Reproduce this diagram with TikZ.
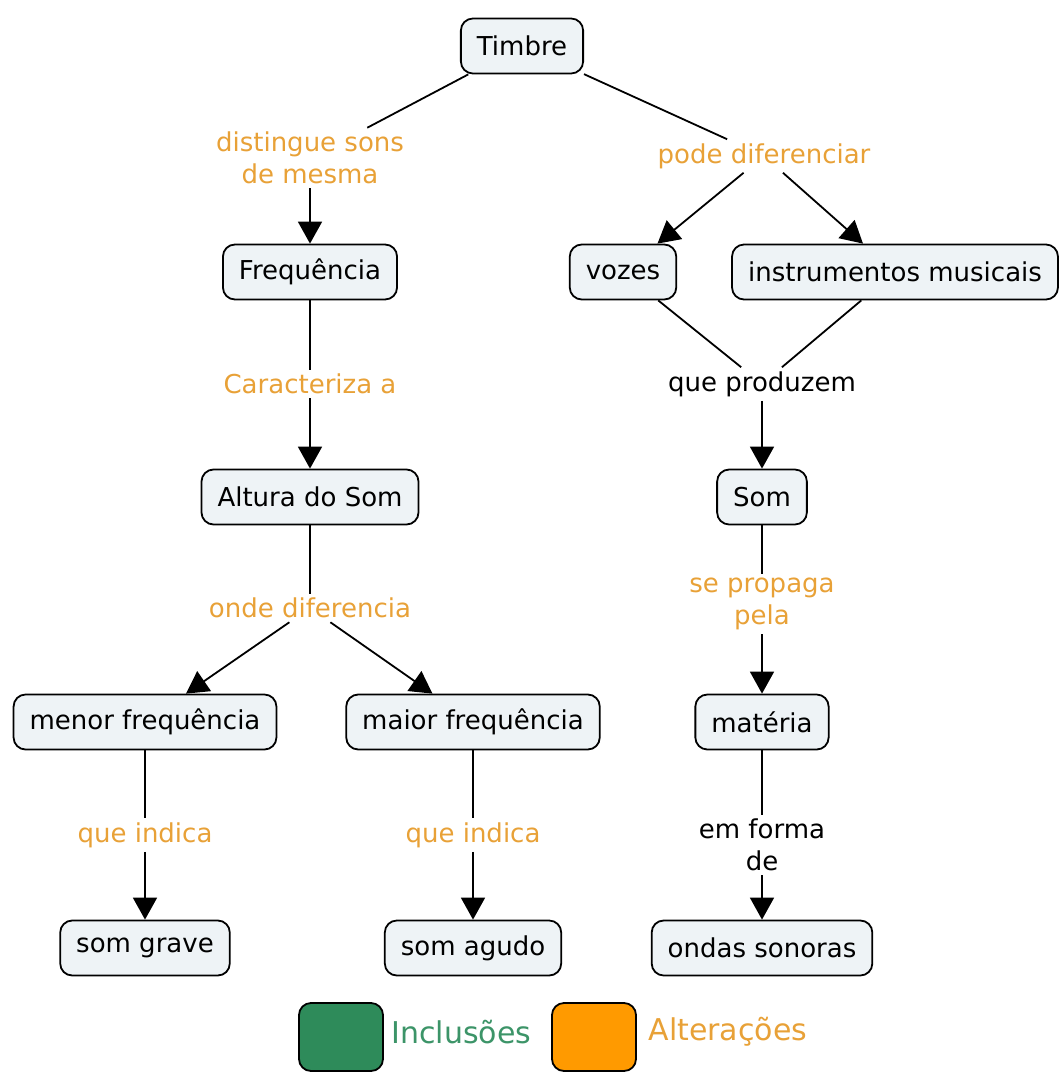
\documentclass[tikz,border=0pt]{standalone}
\usepackage{fontspec}
\setmainfont{DejaVu Sans}
\usetikzlibrary{arrows.meta}

\definecolor{conceptfill}{HTML}{EEF3F6}
\definecolor{linkorange}{HTML}{E8A137}
\definecolor{incgreen}{HTML}{2E8B5A}
\definecolor{inctext}{HTML}{3C9468}
\definecolor{altorange}{HTML}{FF9A00}

\begin{document}
\begin{tikzpicture}[
  x=1pt, y=-1pt,
  every node/.style={font=\fontsize{26}{32}\selectfont},
  concept/.style={rectangle, draw=black, fill=conceptfill, rounded corners=12pt,
                  minimum height=55pt, inner xsep=16pt, line width=1.8pt},
  link/.style={text=linkorange, align=center, inner sep=4pt},
  linkblack/.style={text=black, align=center, inner sep=4pt},
  arr/.style={-{Triangle[length=22pt,width=24pt]}, line width=1.8pt, black},
  plain/.style={line width=1.8pt, black},
  legendbox/.style={rectangle, draw=black, rounded corners=12pt, line width=1.8pt,
                    minimum width=84pt, minimum height=68pt},
  legendtext/.style={anchor=west, font=\fontsize{30}{36}\selectfont},
]
\useasboundingbox (0,0) rectangle (1060,1073);

% concepts
\node[concept] (timbre) at (522,46) {Timbre};
\node[concept] (freq) at (310,272) {Frequência};
\node[concept] (vozes) at (623,272) {vozes};
\node[concept] (instr) at (895,272) {instrumentos musicais};
\node[concept] (altura) at (310,497) {Altura do Som};
\node[concept] (som) at (762,497) {Som};
\node[concept] (menor) at (145,722) {menor frequência};
\node[concept] (maior) at (473,722) {maior frequência};
\node[concept] (materia) at (762,722) {matéria};
\node[concept] (grave) at (145,948) {som grave};
\node[concept] (agudo) at (473,948) {som agudo};
\node[concept] (ondas) at (762,948) {ondas sonoras};

% linking phrases
\node[link] (distingue) at (310,158) {distingue sons\\de mesma};
\node[link] (pode) at (764,156) {pode diferenciar};
\node[link] (caracteriza) at (310,384) {Caracteriza a};
\node[linkblack] (produzem) at (762,384) {que produzem};
\node[link] (onde) at (310,608) {onde diferencia};
\node[link] (propaga) at (762,604) {se propaga\\pela};
\node[link] (indicaA) at (145,835) {que indica};
\node[link] (indicaB) at (473,835) {que indica};
\node[linkblack] (forma) at (762,845) {em forma\\de};

% connectors
\draw[plain] (timbre) -- (distingue);
\draw[arr] (distingue) -- (freq);
\draw[plain] (timbre) -- (pode);
\draw[arr] (pode) -- (vozes);
\draw[arr] (pode) -- (instr);
\draw[plain] (freq) -- (caracteriza);
\draw[arr] (caracteriza) -- (altura);
\draw[plain] (vozes) -- (produzem);
\draw[plain] (instr) -- (produzem);
\draw[arr] (produzem) -- (som);
\draw[plain] (altura) -- (onde);
\draw[arr] (onde) -- (menor);
\draw[arr] (onde) -- (maior);
\draw[plain] (som) -- (propaga);
\draw[arr] (propaga) -- (materia);
\draw[plain] (menor) -- (indicaA);
\draw[arr] (indicaA) -- (grave);
\draw[plain] (maior) -- (indicaB);
\draw[arr] (indicaB) -- (agudo);
\draw[plain] (materia) -- (forma);
\draw[arr] (forma) -- (ondas);

% legend
\node[legendbox, fill=incgreen] (inc) at (341,1037) {};
\node[legendtext, text=inctext] (inctext) at (388,1032) {Inclusões};
\node[legendbox, fill=altorange] (alt) at (594,1037) {};
\node[legendtext, text=linkorange] (alttext) at (645,1032) {Alterações};

\end{tikzpicture}
\end{document}
